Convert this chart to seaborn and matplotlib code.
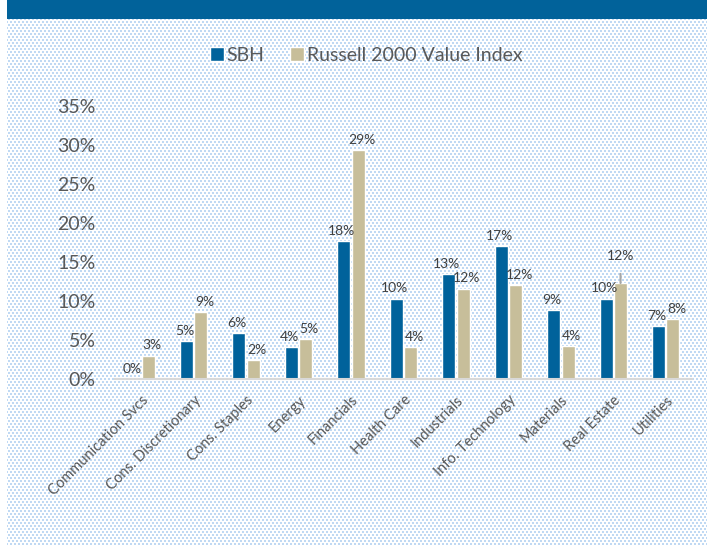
import numpy as np
import pandas as pd
import matplotlib
matplotlib.use('Agg')
import matplotlib.pyplot as plt
import seaborn as sns
from matplotlib.patches import Patch

# --- data (weights in %) ---
sectors = ['Communication Svcs', 'Cons. Discretionary', 'Cons. Staples', 'Energy',
           'Financials', 'Health Care', 'Industrials', 'Info. Technology',
           'Materials', 'Real Estate', 'Utilities']
sbh = [0.0, 4.9, 5.9, 4.1, 17.7, 10.3, 13.4, 17.0, 8.8, 10.3, 6.8]
russell = [3.0, 8.6, 2.4, 5.1, 29.4, 4.1, 11.6, 12.0, 4.2, 12.3, 7.7]
series_names = ['SBH', 'Russell 2000 Value Index']

BLUE = '#00629b'
TAN = '#c7be9a'
GREY_TXT = '#595959'
LABEL_TXT = '#404040'

W, H, DPI = 707, 546, 100

df = pd.DataFrame({
    'sector': sectors * 2,
    'weight': sbh + russell,
    'series': [series_names[0]] * len(sectors) + [series_names[1]] * len(sectors),
})

sns.set_theme(style='white')
plt.rcParams['font.family'] = ['Lato', 'DejaVu Sans']

fig = plt.figure(figsize=(W / DPI, H / DPI), dpi=DPI)

# dotted light-blue backdrop + header band
yy, xx = np.mgrid[0:H, 0:W]
row = yy // 3
dots = ((yy % 3) < 2) & (((xx + 2 * (row % 2)) % 4) < 2)
bg = np.ones((H, W, 3))
bg[dots] = np.array([192, 217, 243]) / 255
bg[:, :7] = 1.0
bg[:19, 7:] = np.array([1, 98, 154]) / 255
fig.figimage(bg, xo=0, yo=0, origin='upper', zorder=-10)

ax = fig.add_axes([115 / W, 1 - 379 / H, 577 / W, 273 / H])
ax.patch.set_visible(False)

sns.barplot(data=df, x='sector', y='weight', hue='series',
            palette=[BLUE, TAN], width=0.55, gap=0.1, saturation=1,
            ax=ax, legend=False)

ax.set_ylim(0, 35)
ax.set_xlim(-0.5, len(sectors) - 0.5)
ax.set_yticks(np.arange(0, 36, 5))
ax.set_yticklabels([f'{v}%' for v in range(0, 36, 5)])
ax.set_xlabel('')
ax.set_ylabel('')

for s in ['top', 'right', 'left']:
    ax.spines[s].set_visible(False)
ax.spines['bottom'].set_color('#d9d9d9')
ax.spines['bottom'].set_linewidth(1.5)

ax.tick_params(axis='y', length=0, pad=14, labelsize=14, labelcolor=GREY_TXT)
ax.tick_params(axis='x', length=0, pad=10, labelsize=10.5, labelcolor=GREY_TXT)
for lab in ax.get_xticklabels():
    lab.set_rotation(45)
    lab.set_ha('right')
    lab.set_rotation_mode('anchor')

# data labels (SBH nudged left, index nudged right so neighbours don't collide)
for ci, cont in enumerate(ax.containers):
    vals = sbh if ci == 0 else russell
    dx = -1.5 if ci == 0 else 2.5
    for i, patch in enumerate(cont.patches):
        xc = patch.get_x() + patch.get_width() / 2
        top = patch.get_height()
        if ci == 1 and sectors[i] == 'Real Estate':
            ax.annotate(f'{vals[i]:.0f}%', (xc, top), xytext=(0, 15),
                        textcoords='offset points', ha='center', va='bottom',
                        fontsize=10, color=LABEL_TXT,
                        arrowprops=dict(arrowstyle='-', color='#a6a6a6', lw=1.5,
                                        relpos=(0.5, 0), shrinkA=6, shrinkB=0))
        else:
            ax.annotate(f'{vals[i]:.0f}%', (xc, top), xytext=(dx, 3),
                        textcoords='offset points', ha='center', va='bottom',
                        fontsize=10, color=LABEL_TXT)

# legend
handles = [Patch(facecolor=BLUE), Patch(facecolor=TAN)]
fig.legend(handles, series_names, loc='center', bbox_to_anchor=(0.518, 0.899),
           ncol=2, frameon=False, fontsize=14, labelcolor=GREY_TXT,
           handlelength=0.7, handleheight=0.7, handletextpad=0.15,
           columnspacing=1.3)

fig.savefig('out.png', dpi=DPI)
